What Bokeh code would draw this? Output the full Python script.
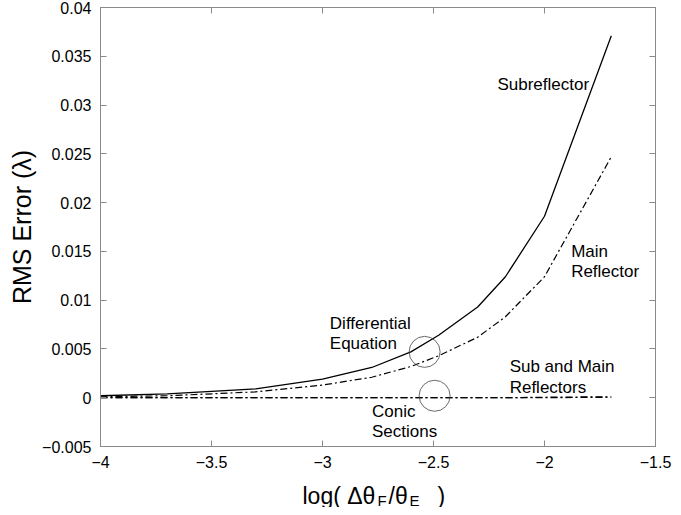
from bokeh.plotting import figure
from bokeh.models import Range1d, FixedTicker, LinearAxis, Label
from bokeh.layouts import column
from bokeh.embed import file_html
from bokeh.resources import INLINE

# ---- data ----
log_ratio = [-4.0, -3.699, -3.301, -3.0, -2.778, -2.602, -2.477, -2.301, -2.176, -2.0, -1.699]
subreflector = [0.0002, 0.0004, 0.0009, 0.0019, 0.0031, 0.0047, 0.0064, 0.0093, 0.0124, 0.0186, 0.0371]
main_reflector = [0.0001, 0.0002, 0.0006, 0.0013, 0.0021, 0.0032, 0.0043, 0.0062, 0.0083, 0.0124, 0.0247]
conic_sub = [0.0, 0.0, 0.0, 0.0, 0.0, 0.0, 0.0, 0.0, 0.0, 0.00005, 0.0001]
conic_main = [0.0, 0.0, 0.0, 0.0, 0.0, 0.0, 0.0, 0.0, 0.0, 0.0, 0.00005]

circle_x = [-2.54, -2.495]
circle_y = [0.0047, 0.0002]

x_ticks = [-4, -3.5, -3, -2.5, -2, -1.5]
x_tick_labels = ["\u22124", "\u22123.5", "\u22123", "\u22122.5", "\u22122", "\u22121.5"]
y_ticks = [-0.005, 0, 0.005, 0.01, 0.015, 0.02, 0.025, 0.03, 0.035, 0.04]
y_tick_labels = ["\u22120.005", "0", "0.005", "0.01", "0.015", "0.02", "0.025", "0.03", "0.035", "0.04"]

annotations = [
    ("Subreflector", -2.212, 0.03215),
    ("Main", -1.880, 0.01497),
    ("Reflector", -1.880, 0.01292),
    ("Sub and Main", -2.157, 0.00318),
    ("Reflectors", -2.157, 0.00107),
    ("Differential", -2.967, 0.00763),
    ("Equation", -2.967, 0.00558),
    ("Conic", -2.777, -0.00144),
    ("Sections", -2.777, -0.00349),
]

FONT = "Liberation Sans"
AXIS_COLOR = "#8a8a8a"
W = 673

p = figure(width=W, height=474, title=None,
           x_range=Range1d(-4, -1.5), y_range=Range1d(-0.005, 0.04),
           output_backend="svg", toolbar_location=None,
           min_border_left=100, min_border_right=18,
           min_border_top=7, min_border_bottom=28)
p.xgrid.visible = False
p.ygrid.visible = False
p.outline_line_color = AXIS_COLOR
p.outline_line_width = 1
p.background_fill_color = "white"
p.border_fill_color = "white"


def style_axis(ax, ticks, labels, show_labels=True):
    ax.ticker = FixedTicker(ticks=ticks)
    ax.major_label_overrides = {t: l for t, l in zip(ticks, labels)}
    ax.major_tick_in = 6
    ax.major_tick_out = 0
    ax.minor_tick_in = 0
    ax.minor_tick_out = 0
    ax.axis_line_color = AXIS_COLOR
    ax.major_tick_line_color = AXIS_COLOR
    ax.major_label_text_font = FONT
    ax.major_label_text_color = "black"
    if show_labels:
        ax.major_label_text_font_size = "16px"
    else:
        ax.major_label_text_font_size = "0px"
        ax.major_label_standoff = 0


style_axis(p.xaxis[0], x_ticks, x_tick_labels)
p.xaxis[0].major_label_standoff = 9
style_axis(p.yaxis[0], y_ticks, y_tick_labels)
p.yaxis[0].major_label_standoff = 9
p.yaxis[0].axis_label = "RMS Error (\u03bb)"
p.yaxis[0].axis_label_text_font = FONT
p.yaxis[0].axis_label_text_font_size = "25px"
p.yaxis[0].axis_label_text_font_style = "normal"
p.yaxis[0].axis_label_text_color = "black"
p.yaxis[0].axis_label_standoff = 3

top_ax = LinearAxis()
style_axis(top_ax, x_ticks, x_tick_labels, show_labels=False)
p.add_layout(top_ax, "above")
right_ax = LinearAxis()
style_axis(right_ax, y_ticks, y_tick_labels, show_labels=False)
p.add_layout(right_ax, "right")

# ---- curves ----
p.line(log_ratio, subreflector, line_color="black", line_width=1.3)
p.line(log_ratio, main_reflector, line_color="black", line_width=1.2, line_dash="7 3 2 3")
p.line(log_ratio, conic_sub, line_color="black", line_width=1.2, line_dash="7 3 2 3")
p.line(log_ratio, conic_main, line_color="black", line_width=1.2, line_dash="7 3 2 3")

p.scatter(circle_x, circle_y, marker="circle", size=31, fill_color=None,
          line_color="#444444", line_width=0.8)

for txt, xx, yy in annotations:
    p.add_layout(Label(x=xx, y=yy, text=txt, text_font=FONT, text_font_size="17px",
                       text_baseline="middle", text_align="left", text_color="black"))

# ---- x axis label strip: log( Δθ_F/θ_E ) ----
q = figure(width=W, height=33, title=None, x_range=p.x_range, y_range=Range1d(0, 33),
           x_axis_type=None, y_axis_type=None,
           output_backend="svg", toolbar_location=None,
           min_border=0, min_border_left=100, min_border_right=18,
           min_border_top=0, min_border_bottom=0)
q.outline_line_color = None
q.xgrid.visible = False
q.ygrid.visible = False

xlabel_parts = [
    ("log( \u0394\u03b8", 202, 12, "23px"),
    ("F", 277, 7, "15px"),
    ("/\u03b8", 288, 12, "23px"),
    ("E", 309, 7, "15px"),
    (")", 337, 12, "23px"),
]
for txt, xo, yy, fs in xlabel_parts:
    q.add_layout(Label(x=-4, y=yy, x_offset=xo, text=txt,
                       text_font=FONT, text_font_size=fs, text_baseline="alphabetic",
                       text_align="left", text_color="black"))

layout = column(p, q, spacing=0)
open("out.html", "w").write(file_html(layout, INLINE))
